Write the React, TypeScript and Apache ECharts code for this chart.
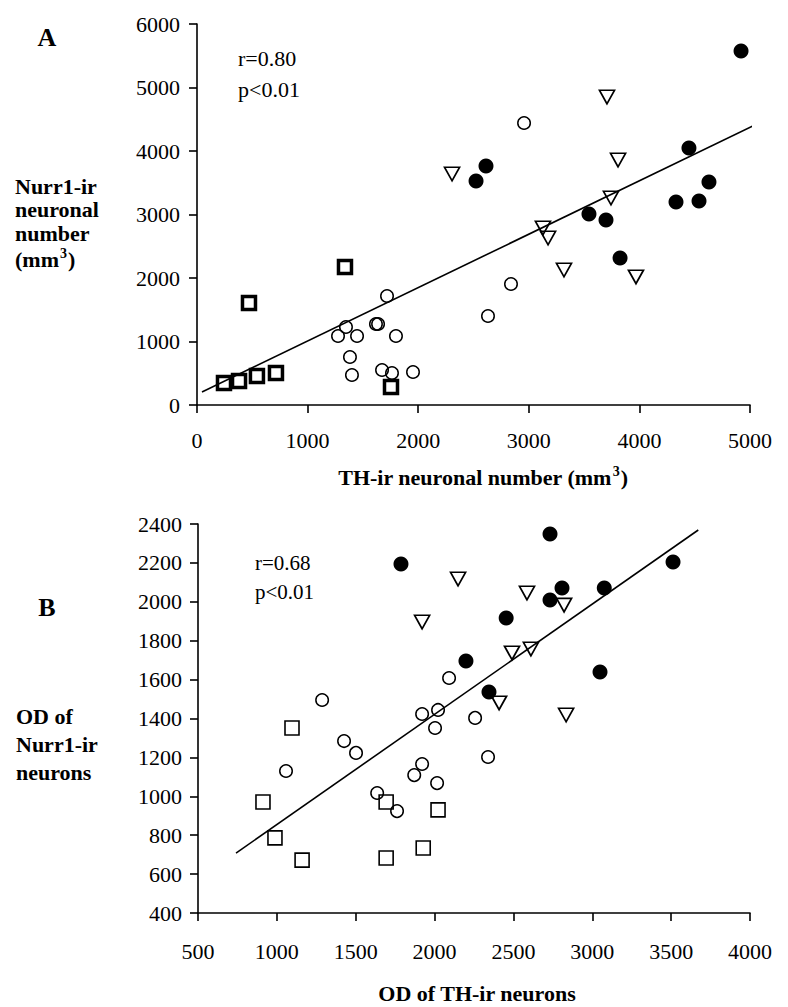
import React, { useEffect, useRef } from "react";
import * as echarts from "echarts";

// ---------- Panel A data: TH-ir neuronal number (x) vs Nurr1-ir neuronal number (y)
const aFilled: number[][] = [
  [4919, 5575], [2613, 3764], [2523, 3528], [3544, 3008], [3698, 2913],
  [3825, 2315], [4331, 3197], [4539, 3213], [4629, 3512], [4448, 4047],
];
const aTriangles: number[][] = [
  [2306, 3638], [3707, 4850], [3807, 3858], [3743, 3260], [3128, 2787],
  [3174, 2630], [3318, 2126], [3969, 2016],
];
const aOpen: number[][] = [
  [2957, 4441], [2839, 1906], [2631, 1402], [1718, 1717], [1347, 1228],
  [1275, 1087], [1447, 1087], [1618, 1276], [1637, 1276], [1799, 1087],
  [1383, 756], [1401, 472], [1673, 551], [1763, 504], [1953, 520],
];
const aSquares: number[][] = [
  [1338, 2173], [470, 1606], [244, 346], [380, 378], [542, 457], [714, 504], [1754, 283],
];
const aFit: number[][] = [[45, 205], [5045, 4409]];

// ---------- Panel B data: OD of TH-ir neurons (x) vs OD of Nurr1-ir neurons (y)
const bFilled: number[][] = [
  [2732, 2348], [2808, 2071], [3076, 2071], [2732, 2009], [2454, 1917],
  [3512, 2205], [3049, 1639], [2345, 1536], [1787, 2194], [2199, 1696],
];
const bTriangles: number[][] = [
  [2586, 2045], [2821, 1983], [2491, 1737], [2611, 1757], [2409, 1480],
  [2834, 1418], [2149, 2117], [1921, 1896],
];
const bOpen: number[][] = [
  [1287, 1495], [2092, 1608], [1921, 1423], [2022, 1444], [2257, 1403],
  [2003, 1351], [2339, 1202], [1426, 1284], [1502, 1223], [1058, 1130],
  [1921, 1166], [1871, 1109], [2016, 1068], [1636, 1017], [1762, 924],
];
const bSquares: number[][] = [
  [1096, 1351], [912, 971], [1693, 971], [2022, 930], [988, 786],
  [1160, 672], [1693, 683], [1928, 734],
];
const bFit: number[][] = [[741, 708], [3672, 2369]];

// ---------- Axis ranges / texts
const aXRange = { min: 0, max: 5000, interval: 1000 };
const aYRange = { min: 0, max: 6000, interval: 1000 };
const bXRange = { min: 500, max: 4000, interval: 500 };
const bYRange = { min: 400, max: 2400, interval: 200 };

const aStats = ["r=0.80", "p<0.01"];
const bStats = ["r=0.68", "p<0.01"];
const aYTitle = ["Nurr1-ir", "neuronal", "number", "(mm{sup|3})"];
const bYTitle = ["OD of", "Nurr1-ir", "neurons"];
const aXTitle = "TH-ir neuronal number (mm{sup|3})";
const bXTitle = "OD of TH-ir neurons";

const SERIF = "'Liberation Serif', 'Times New Roman', serif";

export default function App() {
  const ref = useRef<HTMLDivElement>(null);

  useEffect(() => {
    if (!ref.current) return;
    const chart = echarts.init(ref.current, undefined, { renderer: "svg" });

    const axisCommon = (margin: number) => ({
      type: "value" as const,
      axisLine: { show: true, onZero: false, lineStyle: { color: "#000", width: 1.6 } },
      axisTick: { show: true, inside: false, length: 8, lineStyle: { color: "#000", width: 1.6 } },
      splitLine: { show: false },
      axisLabel: {
        color: "#000",
        fontFamily: SERIF,
        fontSize: 22,
        margin,
        showMinLabel: true,
        showMaxLabel: true,
        hideOverlap: false,
        formatter: (v: number) => String(v),
      },
    });

    const openCircle = (data: number[][], xi: number) => ({
      type: "scatter",
      xAxisIndex: xi,
      yAxisIndex: xi,
      data,
      symbol: "circle",
      symbolSize: 12.5,
      itemStyle: { color: "rgba(0,0,0,0)", borderColor: "#000", borderWidth: 1.5, opacity: 1 },
      z: 3,
    });
    const filled = (data: number[][], xi: number) => ({
      type: "scatter",
      xAxisIndex: xi,
      yAxisIndex: xi,
      data,
      symbol: "circle",
      symbolSize: 15,
      itemStyle: { color: "#000", opacity: 1 },
      z: 4,
    });
    const triangles = (data: number[][], xi: number) => ({
      type: "scatter",
      xAxisIndex: xi,
      yAxisIndex: xi,
      data,
      symbol: "triangle",
      symbolRotate: 180,
      symbolSize: [15, 13.5],
      itemStyle: { color: "rgba(0,0,0,0)", borderColor: "#000", borderWidth: 1.7, opacity: 1 },
      z: 3,
    });
    const squares = (data: number[][], xi: number, bw: number, size: number) => ({
      type: "scatter",
      xAxisIndex: xi,
      yAxisIndex: xi,
      data,
      symbol: "rect",
      symbolSize: size,
      itemStyle: { color: "rgba(0,0,0,0)", borderColor: "#000", borderWidth: bw, opacity: 1 },
      z: 3,
    });
    const fit = (data: number[][], xi: number) => ({
      type: "line",
      xAxisIndex: xi,
      yAxisIndex: xi,
      data,
      symbol: "none",
      clip: false,
      lineStyle: { color: "#000", width: 1.6 },
      z: 2,
    });

    const txt = (
      text: string,
      x: number,
      y: number,
      size: number,
      bold: boolean,
      align: string = "left"
    ) => ({
      type: "text",
      x,
      y,
      silent: true,
      style: {
        text,
        fill: "#000",
        fontFamily: SERIF,
        fontSize: size,
        fontWeight: bold ? "bold" : "normal",
        textAlign: align,
        textVerticalAlign: "middle",
        lineHeight: 26,
        rich: {
          sup: {
            fontSize: 14,
            fontWeight: "bold",
            fontFamily: SERIF,
            fill: "#000",
            verticalAlign: "top",
            lineHeight: 26,
            padding: [0, 1, 12, 1],
          },
        },
      },
    });

    const graphics: any[] = [
      txt("A", 47, 37, 26, true, "center"),
      txt("B", 47, 607, 26, true, "center"),
      txt(aStats[0], 238, 58, 22, false),
      txt(aStats[1], 238, 89, 22, false),
      txt(bStats[0], 255, 563, 21, false),
      txt(bStats[1], 255, 592, 21, false),
      txt(aXTitle, 483, 477, 22, true, "center"),
      txt(bXTitle, 477, 993, 22, true, "center"),
    ];
    const aYPos = [186, 209, 233, 259];
    aYTitle.forEach((t, i) => graphics.push(txt(t, 15, aYPos[i], 22, true)));
    const bYPos = [716, 744, 772];
    bYTitle.forEach((t, i) => graphics.push(txt(t, 16, bYPos[i], 22, true)));

    chart.setOption({
      animation: false,
      backgroundColor: "#fff",
      grid: [
        { left: 197, top: 24, width: 553, height: 381 },
        { left: 198, top: 524, width: 552, height: 389 },
      ],
      xAxis: [
        { gridIndex: 0, ...axisCommon(24), ...aXRange },
        { gridIndex: 1, ...axisCommon(27), ...bXRange },
      ],
      yAxis: [
        { gridIndex: 0, ...axisCommon(17), ...aYRange },
        { gridIndex: 1, ...axisCommon(16), ...bYRange },
      ],
      series: [
        fit(aFit, 0),
        openCircle(aOpen, 0),
        triangles(aTriangles, 0),
        squares(aSquares, 0, 3.5, 13),
        filled(aFilled, 0),
        fit(bFit, 1),
        openCircle(bOpen, 1),
        triangles(bTriangles, 1),
        squares(bSquares, 1, 1.6, 14),
        filled(bFilled, 1),
      ],
      graphic: graphics,
    });

    return () => chart.dispose();
  }, []);

  return (
    <div
      ref={ref}
      style={{ position: "absolute", left: 0, top: 0, width: 788, height: 1007 }}
    />
  );
}
